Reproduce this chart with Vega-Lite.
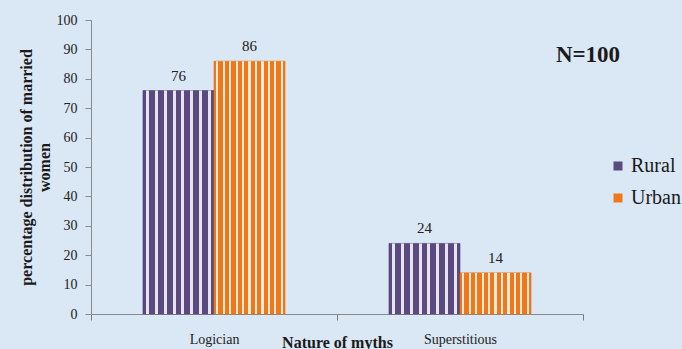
{
  "$schema": "https://vega.github.io/schema/vega-lite/v6.json",
  "width": 492,
  "height": 294,
  "autosize": {"type": "none"},
  "padding": {"left": 91, "top": 20, "right": 99, "bottom": 35},
  "background": "#dae7f4",
  "config": {"view": {"stroke": null}, "font": "Liberation Serif"},
  "data": {"values": [
    {"myth": "Logician", "area": "Rural", "pct": 76},
    {"myth": "Logician", "area": "Urban", "pct": 86},
    {"myth": "Superstitious", "area": "Rural", "pct": 24},
    {"myth": "Superstitious", "area": "Urban", "pct": 14}
  ]},
  "encoding": {
    "x": {
      "field": "myth", "type": "nominal", "sort": ["Logician", "Superstitious"],
      "scale": {"paddingInner": 0, "paddingOuter": 0},
      "axis": {
        "title": "Nature of myths", "labelAngle": 0, "labelFontSize": 14, "labelColor": "#222",
        "labelPadding": 12, "labelBaseline": "top", "ticks": true, "tickSize": 6, "tickBand": "extent",
        "domainColor": "#8a8a8a", "tickColor": "#7a7a7a", "tickWidth": 1, "tickOpacity": 1,
        "titleFontSize": 16, "titleFontWeight": "bold", "titleColor": "#1a1a1a",
        "titleX": 246, "titleY": 33, "titleBaseline": "alphabetic", "titleAlign": "center"
      }
    },
    "xOffset": {"field": "area", "type": "nominal", "sort": ["Rural", "Urban"], "scale": {"paddingInner": 0, "paddingOuter": 0.732}},
    "y": {
      "field": "pct", "type": "quantitative", "scale": {"domain": [0, 100], "nice": false},
      "axis": {
        "title": ["percentage distribution of married", "women"],
        "values": [0, 10, 20, 30, 40, 50, 60, 70, 80, 90, 100], "tickCount": 12, "labelOverlap": false,
        "grid": false, "labelFontSize": 14, "labelColor": "#222", "labelPadding": 8,
        "tickSize": 6, "domainColor": "#8a8a8a", "tickColor": "#8a8a8a",
        "titleFontSize": 16, "titleFontWeight": "bold", "titleColor": "#1a1a1a",
        "titleAngle": -90, "titleX": -60, "titleY": 147, "titleBaseline": "alphabetic",
        "titleAlign": "center", "titleLineHeight": 18
      }
    }
  },
  "layer": [
    {
      "mark": {"type": "bar", "strokeWidth": 0.6},
      "encoding": {
        "color": {
          "field": "area", "type": "nominal", "sort": ["Rural", "Urban"],
          "scale": {"range": ["#5a4a80", "#f07818"]},
          "legend": {
            "title": null, "orient": "none", "legendX": 517, "legendY": 136,
            "symbolType": "square", "symbolSize": 81, "symbolStrokeWidth": 1,
            "labelFontSize": 20, "labelColor": "#1a1a1a", "rowPadding": 12, "labelOffset": 3
          }
        },
        "stroke": {
          "field": "area", "type": "nominal", "sort": ["Rural", "Urban"],
          "scale": {"range": ["#4d3d6e", "#e0701a"]}, "legend": null
        }
      }
    },
    {
      "mark": {"type": "bar", "strokeWidth": 0},
      "encoding": {
        "fill": {
          "condition": {
            "test": "datum.area === 'Rural'",
            "value": {
              "gradient": "linear", "x1": 0, "x2": 1, "y1": 0, "y2": 0,
              "stops": [
                {"offset": 0.041, "color": "rgba(255,255,255,0)"}, {"offset": 0.041, "color": "rgba(255,255,255,0.85)"}, {"offset": 0.084, "color": "rgba(255,255,255,0.85)"}, {"offset": 0.084, "color": "rgba(255,255,255,0)"},
                {"offset": 0.166, "color": "rgba(255,255,255,0)"}, {"offset": 0.166, "color": "rgba(255,255,255,0.85)"}, {"offset": 0.209, "color": "rgba(255,255,255,0.85)"}, {"offset": 0.209, "color": "rgba(255,255,255,0)"},
                {"offset": 0.291, "color": "rgba(255,255,255,0)"}, {"offset": 0.291, "color": "rgba(255,255,255,0.85)"}, {"offset": 0.334, "color": "rgba(255,255,255,0.85)"}, {"offset": 0.334, "color": "rgba(255,255,255,0)"},
                {"offset": 0.416, "color": "rgba(255,255,255,0)"}, {"offset": 0.416, "color": "rgba(255,255,255,0.85)"}, {"offset": 0.459, "color": "rgba(255,255,255,0.85)"}, {"offset": 0.459, "color": "rgba(255,255,255,0)"},
                {"offset": 0.541, "color": "rgba(255,255,255,0)"}, {"offset": 0.541, "color": "rgba(255,255,255,0.85)"}, {"offset": 0.584, "color": "rgba(255,255,255,0.85)"}, {"offset": 0.584, "color": "rgba(255,255,255,0)"},
                {"offset": 0.666, "color": "rgba(255,255,255,0)"}, {"offset": 0.666, "color": "rgba(255,255,255,0.85)"}, {"offset": 0.709, "color": "rgba(255,255,255,0.85)"}, {"offset": 0.709, "color": "rgba(255,255,255,0)"},
                {"offset": 0.791, "color": "rgba(255,255,255,0)"}, {"offset": 0.791, "color": "rgba(255,255,255,0.85)"}, {"offset": 0.834, "color": "rgba(255,255,255,0.85)"}, {"offset": 0.834, "color": "rgba(255,255,255,0)"},
                {"offset": 0.916, "color": "rgba(255,255,255,0)"}, {"offset": 0.916, "color": "rgba(255,255,255,0.85)"}, {"offset": 0.959, "color": "rgba(255,255,255,0.85)"}, {"offset": 0.959, "color": "rgba(255,255,255,0)"}
              ]
            }
          },
          "value": {
            "gradient": "linear", "x1": 0, "x2": 1, "y1": 0, "y2": 0,
            "stops": [
              {"offset": 0.030, "color": "rgba(255,255,255,0)"}, {"offset": 0.030, "color": "rgba(255,255,255,0.85)"}, {"offset": 0.061, "color": "rgba(255,255,255,0.85)"}, {"offset": 0.061, "color": "rgba(255,255,255,0)"},
              {"offset": 0.121, "color": "rgba(255,255,255,0)"}, {"offset": 0.121, "color": "rgba(255,255,255,0.85)"}, {"offset": 0.152, "color": "rgba(255,255,255,0.85)"}, {"offset": 0.152, "color": "rgba(255,255,255,0)"},
              {"offset": 0.212, "color": "rgba(255,255,255,0)"}, {"offset": 0.212, "color": "rgba(255,255,255,0.85)"}, {"offset": 0.243, "color": "rgba(255,255,255,0.85)"}, {"offset": 0.243, "color": "rgba(255,255,255,0)"},
              {"offset": 0.303, "color": "rgba(255,255,255,0)"}, {"offset": 0.303, "color": "rgba(255,255,255,0.85)"}, {"offset": 0.334, "color": "rgba(255,255,255,0.85)"}, {"offset": 0.334, "color": "rgba(255,255,255,0)"},
              {"offset": 0.394, "color": "rgba(255,255,255,0)"}, {"offset": 0.394, "color": "rgba(255,255,255,0.85)"}, {"offset": 0.425, "color": "rgba(255,255,255,0.85)"}, {"offset": 0.425, "color": "rgba(255,255,255,0)"},
              {"offset": 0.485, "color": "rgba(255,255,255,0)"}, {"offset": 0.485, "color": "rgba(255,255,255,0.85)"}, {"offset": 0.516, "color": "rgba(255,255,255,0.85)"}, {"offset": 0.516, "color": "rgba(255,255,255,0)"},
              {"offset": 0.576, "color": "rgba(255,255,255,0)"}, {"offset": 0.576, "color": "rgba(255,255,255,0.85)"}, {"offset": 0.607, "color": "rgba(255,255,255,0.85)"}, {"offset": 0.607, "color": "rgba(255,255,255,0)"},
              {"offset": 0.667, "color": "rgba(255,255,255,0)"}, {"offset": 0.667, "color": "rgba(255,255,255,0.85)"}, {"offset": 0.698, "color": "rgba(255,255,255,0.85)"}, {"offset": 0.698, "color": "rgba(255,255,255,0)"},
              {"offset": 0.758, "color": "rgba(255,255,255,0)"}, {"offset": 0.758, "color": "rgba(255,255,255,0.85)"}, {"offset": 0.789, "color": "rgba(255,255,255,0.85)"}, {"offset": 0.789, "color": "rgba(255,255,255,0)"},
              {"offset": 0.848, "color": "rgba(255,255,255,0)"}, {"offset": 0.848, "color": "rgba(255,255,255,0.85)"}, {"offset": 0.879, "color": "rgba(255,255,255,0.85)"}, {"offset": 0.879, "color": "rgba(255,255,255,0)"},
              {"offset": 0.939, "color": "rgba(255,255,255,0)"}, {"offset": 0.939, "color": "rgba(255,255,255,0.85)"}, {"offset": 0.970, "color": "rgba(255,255,255,0.85)"}, {"offset": 0.970, "color": "rgba(255,255,255,0)"}
            ]
          }
        }
      }
    },
    {
      "mark": {"type": "text", "dy": -10, "baseline": "alphabetic", "fontSize": 15, "color": "#222"},
      "encoding": {
        "text": {"field": "pct", "type": "quantitative"}
      }
    },
    {
      "data": {"values": [{"note": "N=100", "myth": "Superstitious", "pct": 85.7}]},
      "mark": {"type": "text", "dx": 128, "baseline": "alphabetic", "fontSize": 23, "fontWeight": "bold", "color": "#1a1a1a"},
      "encoding": {
        "xOffset": null,
        "text": {"field": "note", "type": "nominal"}
      }
    }
  ]
}
